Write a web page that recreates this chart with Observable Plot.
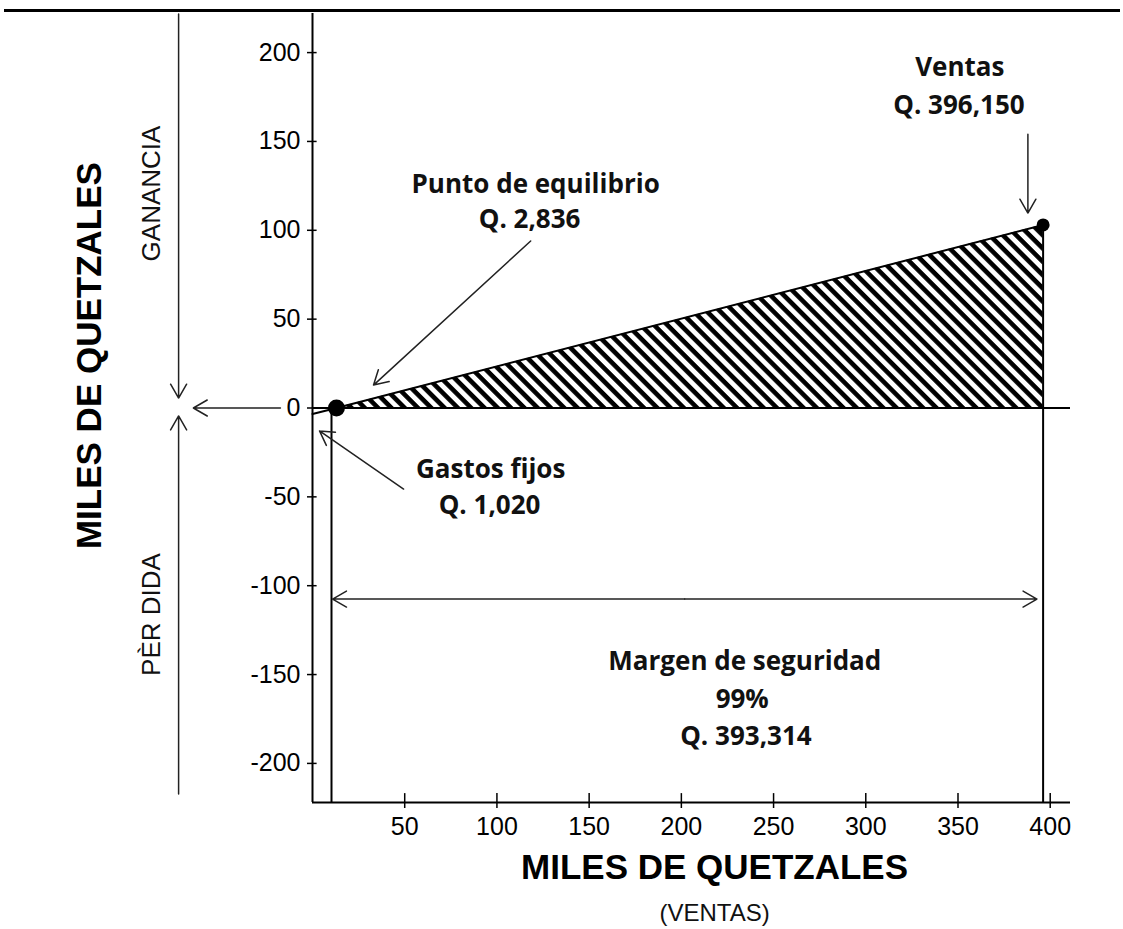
<!DOCTYPE html>
<html><head><meta charset="utf-8">
<script src="https://cdn.jsdelivr.net/npm/d3@7"></script>
<script src="https://cdn.jsdelivr.net/npm/@observablehq/plot@0.6"></script>
<style>
html,body{margin:0;padding:0;background:#fff;}
#wrap{position:relative;width:1123px;height:929px;overflow:hidden;background:#fff;}
#rule{position:absolute;left:4px;top:9px;width:1116px;height:3px;background:#000;}
#chart{position:absolute;left:0;top:0;}
</style></head><body>
<div id="wrap"><div id="chart"></div><div id="rule"></div></div>
<script>
// ---- data (thousands of quetzales) ----
const xTicks = [50, 100, 150, 200, 250, 300, 350, 400];
const yTicks = [-200, -150, -100, -50, 0, 50, 100, 150, 200];
const xDomain = [0, 411];
const yDomain = [-222, 222];

// profit line: starts at -fixed costs, crosses zero at break-even, ends at sales
const profitX = [0, 13, 396.15];
const profitY = [-3.4, 0, 103];
const breakEvenX = 13;
const breakEvenLineX = 10.3;
const salesX = 396.15;
const salesProfit = 103;

// annotation texts
const noteText = ["Ventas", "Q. 396,150", "Punto de equilibrio", "Q. 2,836",
  "Gastos fijos", "Q. 1,020", "Margen de seguridad", "99%", "Q. 393,314"];
const noteX = [351, 350.5, 121, 117.7, 96.6, 96, 234.4, 233, 235];
const noteY = [191.3, 170.2, 125.8, 106.1, -34.6, -54.9, -142.9, -164.3, -185.2];

// arrows (tail -> head)
const arrowX1 = [-72.6, -72.6, -17.4, 387.9, 118.3, 49.4, 201.8, 201.8];
const arrowY1 = [221.7, -217.2, 0, 154.1, 94, -45.6, -107.5, -107.5];
const arrowX2 = [-72.6, -72.6, -64.6, 387.9, 33.1, 3.8, 10.9, 392.8];
const arrowY2 = [5.6, -4.5, 0, 109.7, 12.9, -12.9, -107.5, -107.5];

// side labels
const sideText = ["GANANCIA", "PÈR DIDA"];
const sideX = [-87.4, -87.2];
const sideY = [120.7, -116.2];

const axisTitle = ["MILES DE QUETZALES"];
const xSubTitle = ["(VENTAS)"];

// ---- tables ----
const profit = profitX.map((x, i) => ({x, y: profitY[i]}));
const hatchPts = profit.slice(1);
const notes = noteText.map((t, i) => ({t, x: noteX[i], y: noteY[i]}));
const arrows = arrowX1.map((x1, i) => ({x1, y1: arrowY1[i], x2: arrowX2[i], y2: arrowY2[i]}));
const sides = sideText.map((t, i) => ({t, x: sideX[i], y: sideY[i]}));

const fmt = d => String(d);
const hatchDefs = () => {
  const defs = d3.create("svg:defs");
  const p = defs.append("pattern").attr("id", "hatch")
    .attr("patternUnits", "userSpaceOnUse")
    .attr("width", 9.4).attr("height", 9.4)
    .attr("patternTransform", "rotate(45)");
  p.append("rect").attr("x", 0).attr("y", 0).attr("width", 9.4).attr("height", 9.4).attr("fill", "#fff");
  p.append("rect").attr("x", 0).attr("y", 0).attr("width", 9.4).attr("height", 4.6).attr("fill", "#000");
  return defs.node();
};

const chart = Plot.plot({
  width: 1123,
  height: 929,
  marginLeft: 312,
  marginRight: 53,
  marginTop: 13,
  marginBottom: 127,
  x: {domain: xDomain},
  y: {domain: yDomain},
  style: {fontFamily: "'Liberation Sans', Arial, sans-serif", background: "transparent", color: "#000", overflow: "visible"},
  marks: [
    hatchDefs,
    Plot.areaY(hatchPts, {x: "x", y1: 0, y2: "y", fill: "url(#hatch)"}),
    // axes lines
    Plot.ruleX([0], {y1: yDomain[0], y2: yDomain[1], stroke: "#000", strokeWidth: 2}),
    Plot.ruleY([yDomain[0]], {x1: 0, x2: xDomain[1], stroke: "#000", strokeWidth: 2}),
    Plot.ruleY([0], {x1: 0, x2: xDomain[1], stroke: "#000", strokeWidth: 2}),
    Plot.ruleX([breakEvenLineX], {y1: yDomain[0], y2: 0, stroke: "#000", strokeWidth: 2}),
    Plot.ruleX([salesX], {y1: yDomain[0], y2: salesProfit, stroke: "#000", strokeWidth: 2}),
    Plot.ruleX(xTicks, {y1: yDomain[0], y2: yDomain[0] + 5, stroke: "#000", strokeWidth: 1.5}),
    Plot.ruleY(yTicks, {x1: 0, x2: 2.5, stroke: "#000", strokeWidth: 1.5}),
    Plot.axisX(xTicks, {tickSize: 6, tickPadding: 9, fontSize: 25, label: null, tickFormat: fmt, strokeWidth: 1.5}),
    Plot.axisY(yTicks, {tickSize: 5, tickPadding: 7, fontSize: 25, label: null, tickFormat: fmt, strokeWidth: 1.5}),
    // profit line
    Plot.line(profit, {x: "x", y: "y", stroke: "#000", strokeWidth: 2}),
    Plot.dot([{x: breakEvenX, y: 0}], {x: "x", y: "y", r: 8.5, fill: "#000"}),
    Plot.dot([{x: salesX, y: salesProfit}], {x: "x", y: "y", r: 6.5, fill: "#000"}),
    // arrows
    Plot.arrow(arrows, {x1: "x1", y1: "y1", x2: "x2", y2: "y2", stroke: "#222", strokeWidth: 1.5, headLength: 16, headAngle: 60}),
    // annotations
    Plot.text(notes, {x: "x", y: "y", text: "t", fontSize: 26, fontWeight: "bold", fontFamily: "'Open Sans', Lato, sans-serif", fill: "#111"}),
    Plot.text(sides, {x: "x", y: "y", text: "t", rotate: -90, fontSize: 26, fill: "#111"}),
    Plot.text(axisTitle, {x: -121, y: 29.5, rotate: -90, fontSize: 35, fontWeight: "bold", fill: "#000"}),
    Plot.text(axisTitle, {x: 218, y: -259, fontSize: 35, fontWeight: "bold", fill: "#000"}),
    Plot.text(xSubTitle, {x: 218, y: -284.5, fontSize: 24, fill: "#111"})
  ]
});
document.getElementById("chart").appendChild(chart);
</script></body></html>
